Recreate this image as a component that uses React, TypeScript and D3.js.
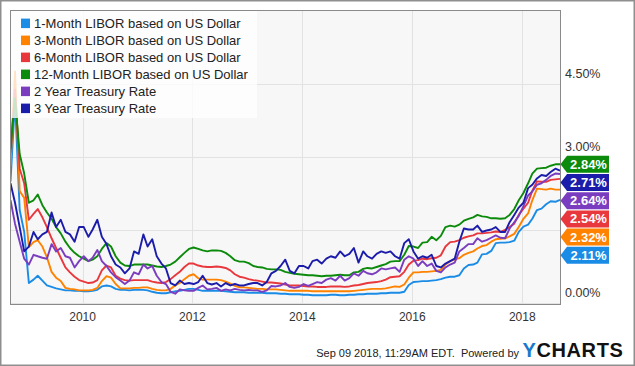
import React from 'react';
import * as d3 from 'd3';

const START = new Date(2008, 8, 9);
const END = new Date(2018, 8, 9);

const seriesNames = [
  '1-Month LIBOR based on US Dollar',
  '3-Month LIBOR based on US Dollar',
  '6-Month LIBOR based on US Dollar',
  '12-Month LIBOR based on US Dollar',
  '2 Year Treasury Rate',
  '3 Year Treasury Rate',
];
const seriesColors = ['#1a8ce6', '#ff8200', '#e8383d', '#0b8a0b', '#7b3dbf', '#1c1cab'];

// Monthly values, Sep 2008 .. Sep 2018
const libor1m = [
  2.48, 4.15, 1.90, 1.45,
  0.40, 0.47, 0.55, 0.45, 0.35, 0.32, 0.29, 0.27, 0.25, 0.25, 0.24, 0.24,
  0.23, 0.23, 0.24, 0.26, 0.33, 0.35, 0.33, 0.28, 0.26, 0.26, 0.25, 0.26,
  0.26, 0.26, 0.25, 0.22, 0.20, 0.19, 0.19, 0.21, 0.23, 0.24, 0.26, 0.28,
  0.28, 0.26, 0.24, 0.24, 0.24, 0.24, 0.24, 0.23, 0.22, 0.21, 0.21, 0.21,
  0.20, 0.20, 0.20, 0.20, 0.19, 0.19, 0.19, 0.18, 0.18, 0.17, 0.17, 0.17,
  0.16, 0.16, 0.15, 0.15, 0.15, 0.15, 0.16, 0.16, 0.15, 0.15, 0.16, 0.16,
  0.17, 0.17, 0.18, 0.18, 0.18, 0.19, 0.19, 0.20, 0.20, 0.20, 0.22, 0.36,
  0.42, 0.43, 0.44, 0.44, 0.45, 0.46, 0.48, 0.51, 0.53, 0.53, 0.56, 0.70,
  0.77, 0.78, 0.82, 0.99, 1.00, 1.06, 1.22, 1.23, 1.23, 1.24, 1.27, 1.45,
  1.56, 1.60, 1.72, 1.90, 1.93, 2.02, 2.08, 2.07, 2.11,
];
const libor3m = [
  2.81, 4.75, 2.29, 2.15,
  1.14, 1.24, 1.28, 1.15, 0.93, 0.63, 0.51, 0.44, 0.30, 0.28, 0.27, 0.25,
  0.25, 0.25, 0.26, 0.30, 0.44, 0.54, 0.51, 0.38, 0.29, 0.29, 0.29, 0.30,
  0.30, 0.31, 0.31, 0.28, 0.26, 0.25, 0.25, 0.28, 0.35, 0.40, 0.48, 0.55,
  0.58, 0.50, 0.47, 0.47, 0.47, 0.47, 0.46, 0.43, 0.39, 0.34, 0.31, 0.31,
  0.30, 0.29, 0.28, 0.28, 0.27, 0.27, 0.27, 0.26, 0.25, 0.24, 0.24, 0.24,
  0.24, 0.24, 0.23, 0.23, 0.23, 0.23, 0.23, 0.23, 0.23, 0.23, 0.23, 0.24,
  0.25, 0.26, 0.27, 0.28, 0.28, 0.28, 0.29, 0.31, 0.33, 0.32, 0.37, 0.51,
  0.62, 0.62, 0.63, 0.63, 0.64, 0.65, 0.67, 0.78, 0.85, 0.88, 0.91, 0.98,
  1.02, 1.05, 1.11, 1.16, 1.18, 1.25, 1.30, 1.31, 1.32, 1.36, 1.41, 1.55,
  1.72, 1.83, 2.10, 2.34, 2.33, 2.32, 2.34, 2.32, 2.32,
];
const libor6m = [
  3.08, 4.38, 2.75, 2.45,
  1.70, 1.82, 1.92, 1.75, 1.55, 1.32, 1.12, 0.92, 0.72, 0.62, 0.53, 0.46,
  0.43, 0.40, 0.41, 0.46, 0.66, 0.76, 0.72, 0.55, 0.49, 0.46, 0.45, 0.46,
  0.46, 0.46, 0.46, 0.43, 0.41, 0.40, 0.42, 0.48, 0.56, 0.63, 0.73, 0.80,
  0.80, 0.76, 0.74, 0.73, 0.73, 0.74, 0.73, 0.71, 0.66, 0.58, 0.53, 0.51,
  0.48, 0.46, 0.45, 0.43, 0.41, 0.41, 0.40, 0.39, 0.37, 0.35, 0.35, 0.35,
  0.34, 0.33, 0.33, 0.32, 0.32, 0.32, 0.33, 0.33, 0.33, 0.32, 0.33, 0.35,
  0.36, 0.38, 0.40, 0.41, 0.42, 0.44, 0.47, 0.52, 0.53, 0.54, 0.63, 0.78,
  0.86, 0.87, 0.90, 0.89, 0.91, 0.92, 0.97, 1.15, 1.24, 1.25, 1.28, 1.33,
  1.36, 1.38, 1.42, 1.42, 1.43, 1.44, 1.46, 1.45, 1.49, 1.55, 1.62, 1.80,
  1.93, 2.05, 2.30, 2.49, 2.48, 2.48, 2.52, 2.53, 2.54,
];
const libor12m = [
  3.15, 4.20, 3.05, 2.65,
  2.05, 2.10, 2.22, 2.00, 1.85, 1.72, 1.55, 1.42, 1.25, 1.12, 1.02, 0.95,
  0.90, 0.85, 0.88, 0.95, 1.10, 1.22, 1.15, 0.95, 0.82, 0.76, 0.75, 0.78,
  0.78, 0.78, 0.78, 0.76, 0.74, 0.73, 0.75, 0.78, 0.84, 0.93, 1.02, 1.10,
  1.13, 1.10, 1.07, 1.05, 1.07, 1.07, 1.06, 1.02, 0.95, 0.87, 0.84, 0.84,
  0.81, 0.75, 0.73, 0.72, 0.69, 0.68, 0.68, 0.67, 0.63, 0.61, 0.59, 0.58,
  0.57, 0.56, 0.56, 0.55, 0.54, 0.55, 0.55, 0.56, 0.57, 0.56, 0.56, 0.62,
  0.63, 0.69, 0.71, 0.70, 0.73, 0.76, 0.79, 0.84, 0.85, 0.85, 0.98, 1.16,
  1.15, 1.12, 1.23, 1.24, 1.35, 1.28, 1.37, 1.55, 1.58, 1.56, 1.60, 1.68,
  1.72, 1.75, 1.80, 1.77, 1.76, 1.73, 1.73, 1.72, 1.73, 1.80, 1.92, 2.10,
  2.25, 2.45, 2.65, 2.75, 2.76, 2.77, 2.81, 2.84, 2.84,
];
const treasury2y = [
  2.10, 1.62, 1.25, 0.90,
  0.78, 0.98, 0.95, 0.92, 0.90, 1.20, 1.05, 1.12, 0.95, 0.92, 0.72, 0.85,
  0.95, 0.85, 0.92, 1.08, 0.85, 0.75, 0.62, 0.52, 0.45, 0.38, 0.45, 0.62,
  0.58, 0.78, 0.70, 0.75, 0.55, 0.42, 0.38, 0.22, 0.18, 0.27, 0.25, 0.24,
  0.24, 0.30, 0.35, 0.27, 0.28, 0.30, 0.24, 0.27, 0.25, 0.28, 0.26, 0.25,
  0.26, 0.25, 0.25, 0.22, 0.25, 0.34, 0.33, 0.35, 0.40, 0.32, 0.30, 0.32,
  0.38, 0.34, 0.38, 0.42, 0.40, 0.47, 0.50, 0.45, 0.55, 0.45, 0.50, 0.60,
  0.55, 0.65, 0.60, 0.58, 0.62, 0.70, 0.68, 0.70, 0.72, 0.63, 0.88, 0.95,
  0.90, 0.75, 0.85, 0.75, 0.80, 0.65, 0.62, 0.72, 0.78, 0.82, 1.05, 1.12,
  1.20, 1.20, 1.32, 1.25, 1.28, 1.33, 1.38, 1.33, 1.32, 1.52, 1.65, 1.78,
  1.98, 2.20, 2.28, 2.42, 2.45, 2.52, 2.60, 2.65, 2.64,
];
const treasury3y = [
  2.45, 2.05, 1.55, 1.05,
  1.15, 1.45, 1.30, 1.40, 1.45, 1.85, 1.55, 1.70, 1.45, 1.40, 1.25, 1.55,
  1.55, 1.35, 1.50, 1.70, 1.35, 1.20, 0.95, 0.78, 0.72, 0.60, 0.70, 1.05,
  1.00, 1.40, 1.15, 1.30, 0.95, 0.80, 0.70, 0.40, 0.35, 0.45, 0.38, 0.40,
  0.38, 0.42, 0.55, 0.40, 0.37, 0.40, 0.33, 0.40, 0.35, 0.38, 0.35, 0.35,
  0.38, 0.40, 0.40, 0.35, 0.42, 0.60, 0.65, 0.75, 0.88, 0.65, 0.60, 0.75,
  0.75, 0.70, 0.85, 0.88, 0.80, 0.90, 0.95, 0.92, 1.05, 0.95, 1.00, 1.12,
  0.82, 1.05, 0.95, 0.90, 1.00, 1.05, 1.02, 1.05, 0.95, 0.90, 1.22, 1.30,
  1.05, 0.90, 0.95, 0.92, 0.98, 0.75, 0.72, 0.80, 0.85, 0.90, 1.25, 1.52,
  1.50, 1.50, 1.58, 1.45, 1.48, 1.50, 1.55, 1.45, 1.45, 1.65, 1.80, 1.95,
  2.05, 2.35, 2.42, 2.55, 2.62, 2.60, 2.68, 2.75, 2.71,
];
const seriesValues = [libor1m, libor3m, libor6m, libor12m, treasury2y, treasury3y];

const gridTicks = [0, 1.5, 3, 4.5];
const yLabelTicks = [0, 3, 4.5];
const yLabelTexts = ['0.00%', '3.00%', '4.50%'];
const xTickYears = [2010, 2012, 2014, 2016, 2018];
const footerText = 'Sep 09 2018, 11:29AM EDT.  Powered by';

const FONT = '"Liberation Sans", Arial, sans-serif';

export default function App() {
  const W = 635;
  const H = 366;
  const left = 10.5, right = 560.5, top = 10.5, bottom = 304.5;

  const x = d3.scaleTime().domain([START, END]).range([left, right - 0.5]);
  const y = d3.scaleLinear().domain([0, 6]).range([302.5, top]);

  const dates = libor1m.map((_, i) => d3.timeMonth.offset(START, i));
  const line = d3
    .line<number>()
    .defined((v) => v != null)
    .x((_, i) => x(dates[i]))
    .y((v) => y(v));

  // end tags: sorted by last value, stacked downward
  const lastVals = seriesValues.map((s, i) => ({ i, v: s[s.length - 1] }));
  const sorted = [...lastVals].sort((a, b) => b.v - a.v);
  const tagPos: { i: number; v: number; cy: number }[] = [];
  let prev = -Infinity;
  for (const t of sorted) {
    const cy = Math.max(y(t.v), prev + 18.2);
    tagPos.push({ ...t, cy });
    prev = cy;
  }

  return (
    <svg
      width={W}
      height={H}
      style={{ position: 'absolute', left: 0, top: 0, display: 'block' }}
      fontFamily={FONT}
    >
      <rect x={0} y={0} width={W} height={H} fill="#ffffff" />
      <rect x={0.75} y={0.75} width={W - 1.5} height={H - 1.5} fill="none" stroke="#8f8f8f" strokeWidth={1.5} />

      <defs>
        <clipPath id="plotClip">
          <rect x={left} y={top} width={right - left} height={bottom - top} />
        </clipPath>
      </defs>

      <rect x={left} y={top} width={right - left} height={bottom - top} fill="#f7f7f7" />

      {/* grid */}
      {gridTicks.map((t) => (
        <line key={'gy' + t} x1={left} x2={right} y1={Math.round(y(t)) + 0.5} y2={Math.round(y(t)) + 0.5} stroke="#e2e2e2" strokeWidth={1} />
      ))}
      {xTickYears.map((yr) => {
        const xx = Math.round(x(new Date(yr, 0, 1))) + 0.5;
        return <line key={'gx' + yr} x1={xx} x2={xx} y1={top} y2={bottom} stroke="#e2e2e2" strokeWidth={1} />;
      })}

      {/* lines */}
      <g clipPath="url(#plotClip)">
        {seriesValues.map((s, i) => (
          <path key={'s' + i} d={line(s) || ''} fill="none" stroke={seriesColors[i]} strokeWidth={1.9} strokeLinejoin="round" />
        ))}
      </g>

      {/* legend */}
      <rect x={left + 0.5} y={top + 0.5} width={246} height={107} fill="#ffffff" fillOpacity={0.78} />
      {seriesNames.map((n, i) => {
        const cy = 23.3 + i * 17;
        return (
          <g key={'lg' + i}>
            <rect x={21} y={cy - 4.7} width={9} height={9.5} fill={seriesColors[i]} />
            <text x={34} y={cy + 4.6} fontSize={13} fill="#222">
              {n}
            </text>
          </g>
        );
      })}

      {/* plot border */}
      <rect x={left} y={top} width={right - left} height={bottom - top} fill="none" stroke="#8a8a8a" strokeWidth={1} />

      {/* y labels */}
      {yLabelTicks.map((t, k) => (
        <text key={'yl' + t} x={565} y={y(t) - 5.5} fontSize={12.5} fill="#333">
          {yLabelTexts[k]}
        </text>
      ))}

      {/* x labels */}
      {xTickYears.map((yr) => (
        <text key={'xl' + yr} x={x(new Date(yr, 0, 1))} y={321} fontSize={12} fill="#333" textAnchor="middle">
          {String(yr)}
        </text>
      ))}

      {/* end tags */}
      {tagPos.map((t) => {
        const cy = t.cy;
        const pts = [
          [560.5, cy],
          [567, cy - 8.5],
          [609, cy - 8.5],
          [609, cy + 8.5],
          [567, cy + 8.5],
        ]
          .map((p) => p.join(','))
          .join(' ');
        return (
          <g key={'tag' + t.i}>
            <polygon points={pts} fill={seriesColors[t.i]} />
            <text x={588.5} y={cy + 4.6} fontSize={13} fontWeight="bold" fill="#fff" textAnchor="middle">
              {t.v.toFixed(2) + '%'}
            </text>
          </g>
        );
      })}

      {/* footer */}
      <text x={519} y={357} fontSize={11} fill="#222" textAnchor="end" style={{ whiteSpace: 'pre' }}>
        {footerText}
      </text>
      <text x={522.5} y={356.8} fontSize={20} fontWeight="bold" letterSpacing={0.6}>
        <tspan fill="#1a78cc">Y</tspan>
        <tspan fill="#111">CHARTS</tspan>
      </text>
    </svg>
  );
}
